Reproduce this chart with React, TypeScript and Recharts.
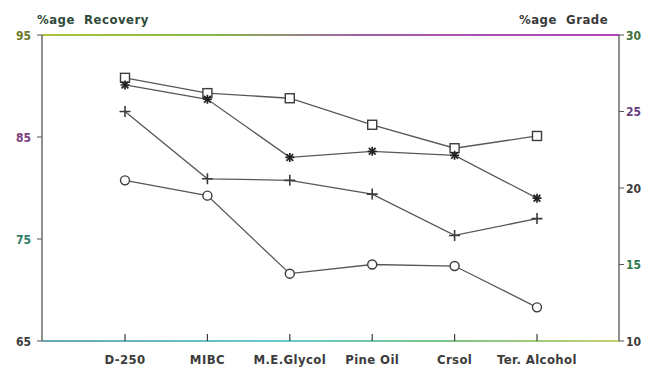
import React from 'react';
import { LineChart, Line, XAxis, YAxis, ReferenceLine } from 'recharts';

const categories = ['D-250', 'MIBC', 'M.E.Glycol', 'Pine Oil', 'Crsol', 'Ter. Alcohol'];
const squareRecovery = [90.8, 89.3, 88.8, 86.2, 83.9, 85.1];
const starRecovery = [90.1, 88.7, 83.0, 83.6, 83.2, 79.0];
const plusGrade = [25.0, 20.6, 20.5, 19.6, 16.9, 18.0];
const circleGrade = [20.5, 19.5, 14.4, 15.0, 14.9, 12.2];
const recoveryTicks = [65, 75, 85, 95];
const gradeTicks = [10, 15, 20, 25, 30];

const data = categories.map((name, i) => ({
  name,
  sq: squareRecovery[i],
  st: starRecovery[i],
  pl: plusGrade[i],
  ci: circleGrade[i],
}));

const FONT = '"DejaVu Sans Condensed", "DejaVu Sans", sans-serif';
const INK = '#3c3c3c';
const LINE = '#585858';

const tickColorsL: Record<number, string> = { 95: '#6f7a2a', 85: '#7a3f7f', 75: '#2f7d6a', 65: '#3c3c3c' };
const tickColorsR: Record<number, string> = { 30: '#3f6f3a', 25: '#6a3f7f', 20: '#3c3c3c', 15: '#2f7a4a', 10: '#3c3c3c' };

const SquareDot = (p: any) => {
  const { cx, cy, index } = p;
  return <rect key={`sq${index}`} x={cx - 4.5} y={cy - 4.5} width={9} height={9} fill="#fff" stroke={INK} strokeWidth={1.4} />;
};
const CircleDot = (p: any) => {
  const { cx, cy, index } = p;
  return <circle key={`ci${index}`} cx={cx} cy={cy} r={4.5} fill="#fff" stroke={INK} strokeWidth={1.4} />;
};
const PlusDot = (p: any) => {
  const { cx, cy, index } = p;
  return (
    <g key={`pl${index}`} stroke={INK} strokeWidth={1.6}>
      <line x1={cx - 5.5} x2={cx + 5.5} y1={cy} y2={cy} />
      <line x1={cx} x2={cx} y1={cy - 5.5} y2={cy + 5.5} />
    </g>
  );
};
const StarDot = (p: any) => {
  const { cx, cy, index } = p;
  const r = 4.5;
  return (
    <g key={`st${index}`} stroke="#222" strokeWidth={1.7}>
      <line x1={cx - r} x2={cx + r} y1={cy} y2={cy} />
      <line x1={cx} x2={cx} y1={cy - r} y2={cy + r} />
      <line x1={cx - r * 0.75} x2={cx + r * 0.75} y1={cy - r * 0.75} y2={cy + r * 0.75} />
      <line x1={cx - r * 0.75} x2={cx + r * 0.75} y1={cy + r * 0.75} y2={cy - r * 0.75} />
    </g>
  );
};

const XTick = (p: any) => {
  const { x, y, payload } = p;
  return (
    <g>
      <line x1={x} x2={x} y1={y} y2={y - 7} stroke={INK} strokeWidth={1.2} />
      <text x={x} y={y + 23} textAnchor="middle" fontFamily={FONT} fontSize={13} fontWeight="bold" letterSpacing={0.4} fill={INK}>
        {payload.value}
      </text>
    </g>
  );
};

const LTick = (p: any) => {
  const { x, y, payload } = p;
  return (
    <text x={x} y={y + 4.5} textAnchor="end" fontFamily={FONT} fontSize={12} fontWeight="bold" fill={tickColorsL[payload.value] || INK}>
      {payload.value}
    </text>
  );
};
const RTick = (p: any) => {
  const { x, y, payload } = p;
  return (
    <text x={x} y={y + 4.5} textAnchor="start" fontFamily={FONT} fontSize={12} fontWeight="bold" fill={tickColorsR[payload.value] || INK}>
      {payload.value}
    </text>
  );
};

export default function App() {
  return (
    <div style={{ position: 'absolute', left: 0, top: 0, width: 647, height: 369, background: '#fff' }}>
      <div style={{ position: 'absolute', left: 37, top: 12, fontFamily: FONT, fontSize: 13, fontWeight: 'bold', letterSpacing: 0.5, color: '#2f4a3a', whiteSpace: 'pre', lineHeight: '16px' }}>
        {'%age  Recovery'}
      </div>
      <div style={{ position: 'absolute', left: 519, top: 12, fontFamily: FONT, fontSize: 13, fontWeight: 'bold', letterSpacing: 0.5, color: '#3a3a3a', whiteSpace: 'pre', lineHeight: '16px' }}>
        {'%age  Grade'}
      </div>
      <LineChart width={647} height={369} data={data} margin={{ top: 35, right: 0, bottom: 0, left: 0 }}>
        <defs>
          <linearGradient id="topGrad" gradientUnits="userSpaceOnUse" x1={42} x2={619} y1={0} y2={0}>
            <stop offset="0%" stopColor="#a8c43a" />
            <stop offset="30%" stopColor="#88b848" />
            <stop offset="55%" stopColor="#a060a8" />
            <stop offset="100%" stopColor="#b040b8" />
          </linearGradient>
          <linearGradient id="botGrad" gradientUnits="userSpaceOnUse" x1={42} x2={619} y1={0} y2={0}>
            <stop offset="0%" stopColor="#3a8a9a" />
            <stop offset="40%" stopColor="#30b8c0" />
            <stop offset="70%" stopColor="#50b060" />
            <stop offset="100%" stopColor="#b0c040" />
          </linearGradient>
        </defs>
        <XAxis
          dataKey="name"
          padding={{ left: 83, right: 82 }}
          height={28}
          tickSize={0}
          tickMargin={0}
          tickLine={false}
          tick={<XTick />}
          axisLine={{ stroke: 'url(#botGrad)', strokeWidth: 1.6 }}
          interval={0}
        />
        <YAxis
          yAxisId="left"
          domain={[65, 95]}
          ticks={recoveryTicks}
          width={42}
          tickSize={5}
          tickMargin={6}
          tick={<LTick />}
          axisLine={{ stroke: '#555', strokeWidth: 1.3 }}
          tickLine={{ stroke: '#555' }}
          allowDataOverflow
        />
        <YAxis
          yAxisId="right"
          orientation="right"
          domain={[10, 30]}
          ticks={gradeTicks}
          width={28}
          tickSize={5}
          tickMargin={2}
          tick={<RTick />}
          axisLine={{ stroke: '#555', strokeWidth: 1.3 }}
          tickLine={{ stroke: '#555' }}
          allowDataOverflow
        />
        <ReferenceLine yAxisId="left" y={95} stroke="url(#topGrad)" strokeWidth={1.8} ifOverflow="visible" />
        <Line yAxisId="left" dataKey="sq" stroke={LINE} strokeWidth={1.3} dot={SquareDot} isAnimationActive={false} />
        <Line yAxisId="left" dataKey="st" stroke={LINE} strokeWidth={1.3} dot={StarDot} isAnimationActive={false} />
        <Line yAxisId="right" dataKey="pl" stroke={LINE} strokeWidth={1.3} dot={PlusDot} isAnimationActive={false} />
        <Line yAxisId="right" dataKey="ci" stroke={LINE} strokeWidth={1.3} dot={CircleDot} isAnimationActive={false} />
      </LineChart>
    </div>
  );
}
